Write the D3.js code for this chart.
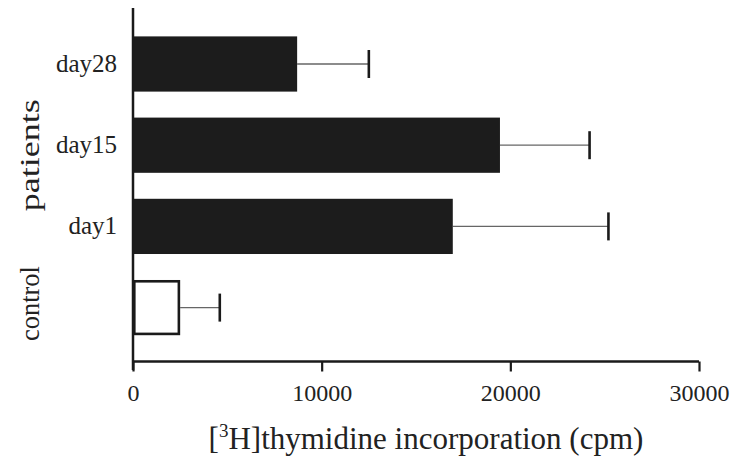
<!DOCTYPE html>
<html><head><meta charset="utf-8">
<script src="https://cdn.jsdelivr.net/npm/d3@7"></script>
<style>body{margin:0;background:#fff}svg{display:block}</style>
</head><body><svg id="c" width="736" height="456"></svg>
<script>
const categories = ["day28", "day15", "day1", "control"];
const means = [8700, 19450, 16950, 2500];
const errors = [3800, 4750, 8250, 2100];
const filled = [true, true, true, false];
const xTicks = [0, 10000, 20000, 30000];
const groups = [{name: "patients", members: ["day28", "day15", "day1"]}, {name: "control", members: ["control"]}];
const xTitle = ["[", "3", "H]thymidine incorporation (cpm)"];

const FONT = '"Liberation Serif"';
const svg = d3.select("#c");
const x = d3.scaleLinear().domain([0, 30000]).range([133, 699]);
const y = d3.scaleBand().domain(categories).range([23.4, 348.2]).paddingInner(0.32).paddingOuter(0.16);
const axisY = 361.5;

const data = categories.map((c, i) => ({c, m: means[i], e: errors[i], f: filled[i]}));

// error bars
const eb = svg.append("g");
data.forEach(d => {
  const cy = y(d.c) + y.bandwidth() / 2;
  eb.append("line").attr("x1", x(d.m)).attr("x2", x(d.m + d.e)).attr("y1", cy).attr("y2", cy)
    .attr("stroke", "#666").attr("stroke-width", 1.3);
  eb.append("line").attr("x1", x(d.m + d.e)).attr("x2", x(d.m + d.e)).attr("y1", cy - 14).attr("y2", cy + 14)
    .attr("stroke", "#1a1a1a").attr("stroke-width", 2.6);
});

// bars
svg.append("g").selectAll("rect").data(data).join("rect")
  .attr("x", d => d.f ? x(0) : x(0) + 1.3)
  .attr("y", d => d.f ? y(d.c) : y(d.c) + 1.3)
  .attr("width", d => d.f ? x(d.m) - x(0) : x(d.m) - x(0) - 2.6)
  .attr("height", d => d.f ? y.bandwidth() : y.bandwidth() - 2.6)
  .attr("fill", d => d.f ? "#1c1c1c" : "#fff")
  .attr("stroke", d => d.f ? "none" : "#1a1a1a")
  .attr("stroke-width", 2.6);

// x axis
const xAxis = d3.axisBottom(x).tickValues(xTicks).tickSize(10).tickPadding(12).tickFormat(d3.format("d"));
const gx = svg.append("g").attr("transform", `translate(0,${axisY})`).call(xAxis)
  .attr("font-family", null).attr("font-size", null);
gx.select(".domain").attr("d", `M${x(0)},0H${x(30000)}`).attr("stroke", "#1a1a1a").attr("stroke-width", 2.5);
gx.selectAll(".tick line").attr("stroke", "#1a1a1a").attr("stroke-width", 2.2);
gx.selectAll(".tick text").attr("font-size", 24).style("font-family", FONT).attr("fill", "#222").attr("dy", "0.71em");

// y axis
const yAxis = d3.axisLeft(y).tickSize(0).tickPadding(16);
const gy = svg.append("g").attr("transform", `translate(${x(0)},0)`).call(yAxis)
  .attr("font-family", null).attr("font-size", null);
gy.select(".domain").attr("d", "M0,8V370").attr("stroke", "#1a1a1a").attr("stroke-width", 2.5);
gy.selectAll(".tick text").attr("font-size", 25).style("font-family", FONT).attr("fill", "#222")
  .text(d => d === "control" ? "" : d);

// group labels
const gLen = {patients: 112, control: 75};
groups.forEach(g => {
  const ys = g.members.map(m => y(m) + y.bandwidth() / 2);
  const cy = g.name === "patients" ? d3.mean(ys) + 10 : d3.mean(ys) - 4;
  svg.append("text").attr("transform", `translate(39,${cy}) rotate(-90)`)
    .attr("text-anchor", "middle").attr("font-size", 28).style("font-family", FONT).attr("fill", "#222")
    .attr("textLength", gLen[g.name]).attr("lengthAdjust", "spacingAndGlyphs")
    .text(g.name);
});

// x title
const t = svg.append("text").attr("x", 426).attr("y", 449).attr("text-anchor", "middle")
  .attr("font-size", 31).style("font-family", FONT).attr("fill", "#222");
t.append("tspan").text(xTitle[0]);
t.append("tspan").attr("font-size", 19).attr("dy", -12).text(xTitle[1]);
t.append("tspan").attr("dy", 12).text(xTitle[2]);
</script></body></html>
